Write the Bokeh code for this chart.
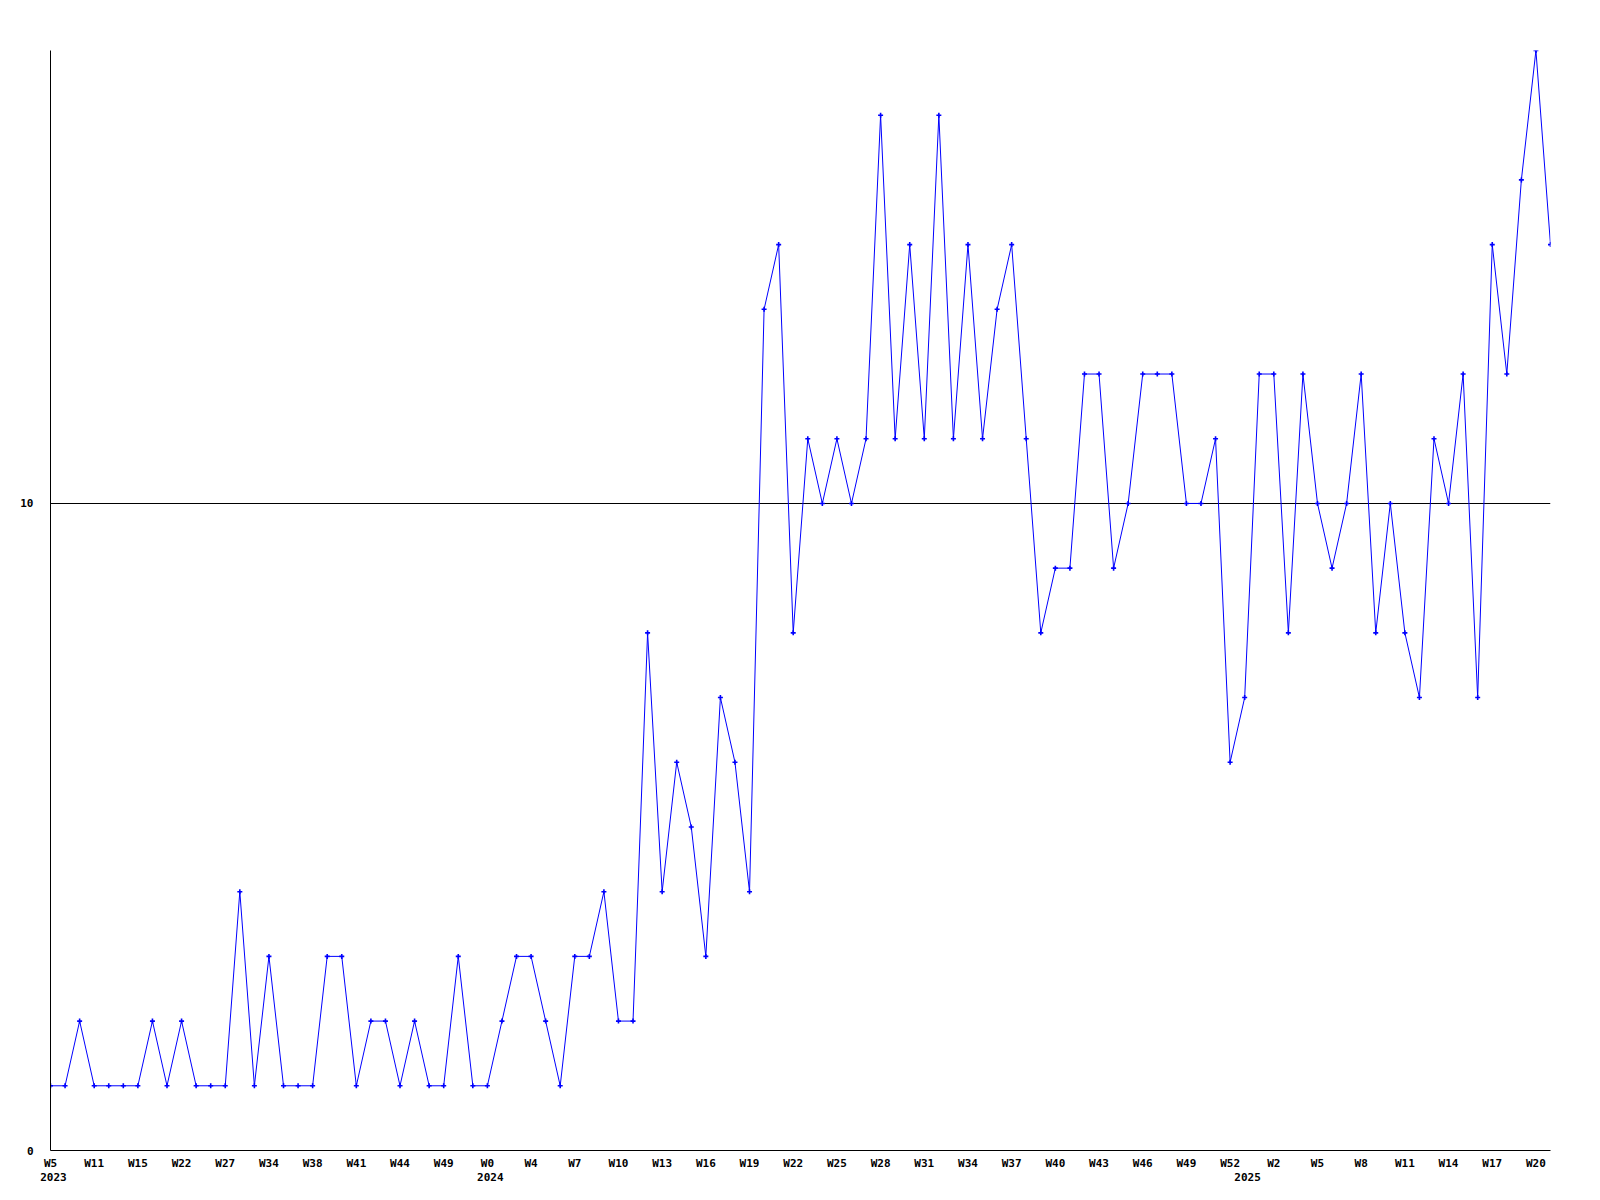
from bokeh.plotting import figure
from bokeh.models import Range1d, FixedTicker, LinearAxis
from bokeh.embed import file_html
from bokeh.resources import INLINE

# ---- data ----
values = [1, 1, 2, 1, 1, 1, 1, 2, 1, 2,
          1, 1, 1, 4, 1, 3, 1, 1, 1, 3,
          3, 1, 2, 2, 1, 2, 1, 1, 3, 1,
          1, 2, 3, 3, 2, 1, 3, 3, 4, 2,
          2, 8, 4, 6, 5, 3, 7, 6, 4, 13,
          14, 8, 11, 10, 11, 10, 11, 16, 11, 14,
          11, 16, 11, 14, 11, 13, 14, 11, 8, 9,
          9, 12, 12, 9, 10, 12, 12, 12, 10, 10,
          11, 6, 7, 12, 12, 8, 12, 10, 9, 10,
          12, 8, 10, 8, 7, 11, 10, 12, 7, 14,
          12, 15, 17, 14]
x_idx = list(range(len(values)))

week_labels = ["W5", "W11", "W15", "W22", "W27", "W34", "W38", "W41", "W44", "W49",
               "W0", "W4", "W7", "W10", "W13", "W16", "W19", "W22", "W25", "W28",
               "W31", "W34", "W37", "W40", "W43", "W46", "W49", "W52", "W2", "W5",
               "W8", "W11", "W14", "W17", "W20"]
week_label_idx = list(range(0, 3 * len(week_labels), 3))

year_labels = ["2023", "2024", "2025"]
year_start_idx = [0, 30, 82]

y_ticks = [0, 10]

# ---- figure ----
FONT = "DejaVu Sans Mono"
W, H = 1570, 1190
p = figure(width=W, height=H, output_backend="svg", toolbar_location=None,
           x_range=Range1d(0, len(values) - 1), y_range=Range1d(0, 17),
           min_border_left=50, min_border_top=50, min_border_right=W - 1550,
           min_border_bottom=H - 1150)
p.outline_line_color = None
p.background_fill_color = "white"
p.border_fill_color = "white"

p.line(x_idx, values, line_color="#0000ff", line_width=1)
p.scatter(x_idx, values, marker="cross", size=5, line_color="#0000ff", line_width=1.6)

# x axis (weeks)
xa = p.xaxis[0]
xa.ticker = FixedTicker(ticks=week_label_idx)
xa.major_label_overrides = {i: lab for i, lab in zip(week_label_idx, week_labels)}
xa.major_tick_out = 0
xa.major_tick_in = 0
xa.minor_tick_out = 0
xa.minor_tick_in = 0
xa.major_label_standoff = 6
xa.axis_line_color = "black"
xa.axis_line_width = 1
xa.major_label_text_font = FONT
xa.major_label_text_font_style = "bold"
xa.major_label_text_font_size = "11px"
xa.major_label_text_color = "black"

# year axis
year_pos = [i + 0.2 for i in year_start_idx]
ya2 = LinearAxis(ticker=FixedTicker(ticks=year_pos),
                 major_label_overrides={v: lab for v, lab in zip(year_pos, year_labels)})
ya2.axis_line_color = None
ya2.major_tick_line_color = None
ya2.minor_tick_line_color = None
ya2.major_tick_out = 0
ya2.major_tick_in = 0
ya2.major_label_standoff = 0
ya2.major_label_text_font = FONT
ya2.major_label_text_font_style = "bold"
ya2.major_label_text_font_size = "11px"
ya2.major_label_text_color = "black"
p.add_layout(ya2, "below")

# y axis
yax = p.yaxis[0]
yax.ticker = FixedTicker(ticks=y_ticks)
yax.major_tick_out = 0
yax.major_tick_in = 0
yax.minor_tick_out = 0
yax.minor_tick_in = 0
yax.major_label_standoff = 17
yax.axis_line_color = "black"
yax.major_label_text_font = FONT
yax.major_label_text_font_style = "bold"
yax.major_label_text_font_size = "11px"
yax.major_label_text_color = "black"

p.xgrid.visible = False
p.ygrid.ticker = FixedTicker(ticks=y_ticks)
p.ygrid.grid_line_color = "black"
p.ygrid.grid_line_width = 1
p.ygrid.grid_line_alpha = 1.0

open("out.html", "w").write(file_html(p, INLINE))
